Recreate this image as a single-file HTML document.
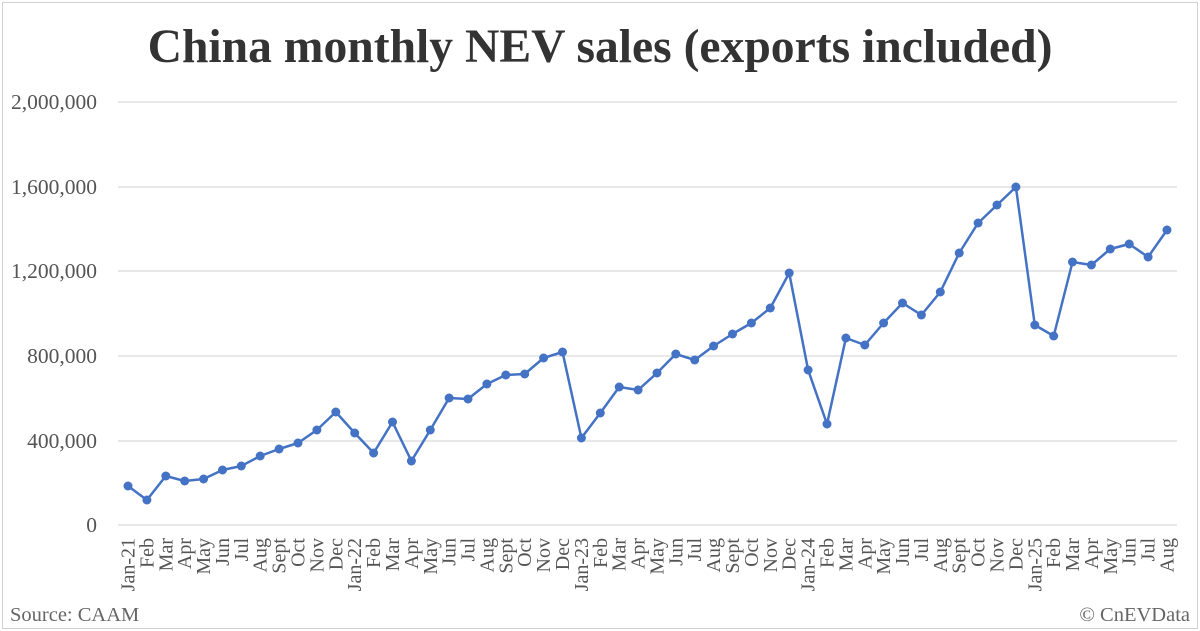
<!DOCTYPE html>
<html><head><meta charset="utf-8"><style>
html,body{margin:0;padding:0;background:#fff;}
svg{display:block;}
</style></head><body>
<svg width="1200" height="631" xmlns="http://www.w3.org/2000/svg" font-family="Liberation Serif, serif">
<rect x="2.5" y="2.5" width="1195" height="626" fill="#fff" stroke="#d0d0d0" stroke-width="1"/>
<text x="600" y="62" text-anchor="middle" font-size="47.6" font-weight="bold" fill="#333">China monthly NEV sales (exports included)</text>
<g stroke="#d9d9d9" stroke-width="1.2">
<line x1="118" x2="1177" y1="102" y2="102"/>
<line x1="118" x2="1177" y1="187" y2="187"/>
<line x1="118" x2="1177" y1="271" y2="271"/>
<line x1="118" x2="1177" y1="356" y2="356"/>
<line x1="118" x2="1177" y1="441" y2="441"/>
<line x1="118" x2="1177" y1="525" y2="525"/>
</g>
<g font-size="21.5" fill="#555" text-anchor="end">
<text x="97" y="109">2,000,000</text>
<text x="97" y="194">1,600,000</text>
<text x="97" y="278">1,200,000</text>
<text x="97" y="363">800,000</text>
<text x="97" y="448">400,000</text>
<text x="97" y="532">0</text>
</g>
<polyline fill="none" stroke="#4472c4" stroke-width="2.5" stroke-linejoin="round" points="128.0,486 146.9,500 165.8,476 184.7,481 203.6,479 222.5,470 241.3,466 260.2,456 279.1,449 298.0,443 316.9,430 335.8,412 354.7,433 373.6,453 392.5,422 411.4,461 430.3,430 449.1,398 468.0,399 486.9,384 505.8,375 524.7,374 543.6,358 562.5,352 581.4,438 600.3,413 619.2,387 638.1,390 657.0,373 675.8,354 694.7,360 713.6,346 732.5,334 751.4,323 770.3,308 789.2,273 808.1,370 827.0,424 845.9,338 864.8,345 883.6,323 902.5,303 921.4,315 940.3,292 959.2,253 978.1,223 997.0,205 1015.9,187 1034.8,325 1053.7,336 1072.5,262 1091.4,265 1110.3,249 1129.2,244 1148.1,257 1167.0,230"/>
<g fill="#4472c4">
<circle cx="128.0" cy="486" r="4.5"/><circle cx="146.9" cy="500" r="4.5"/><circle cx="165.8" cy="476" r="4.5"/><circle cx="184.7" cy="481" r="4.5"/><circle cx="203.6" cy="479" r="4.5"/><circle cx="222.5" cy="470" r="4.5"/><circle cx="241.3" cy="466" r="4.5"/><circle cx="260.2" cy="456" r="4.5"/><circle cx="279.1" cy="449" r="4.5"/><circle cx="298.0" cy="443" r="4.5"/><circle cx="316.9" cy="430" r="4.5"/><circle cx="335.8" cy="412" r="4.5"/>
<circle cx="354.7" cy="433" r="4.5"/><circle cx="373.6" cy="453" r="4.5"/><circle cx="392.5" cy="422" r="4.5"/><circle cx="411.4" cy="461" r="4.5"/><circle cx="430.3" cy="430" r="4.5"/><circle cx="449.1" cy="398" r="4.5"/><circle cx="468.0" cy="399" r="4.5"/><circle cx="486.9" cy="384" r="4.5"/><circle cx="505.8" cy="375" r="4.5"/><circle cx="524.7" cy="374" r="4.5"/><circle cx="543.6" cy="358" r="4.5"/><circle cx="562.5" cy="352" r="4.5"/>
<circle cx="581.4" cy="438" r="4.5"/><circle cx="600.3" cy="413" r="4.5"/><circle cx="619.2" cy="387" r="4.5"/><circle cx="638.1" cy="390" r="4.5"/><circle cx="657.0" cy="373" r="4.5"/><circle cx="675.8" cy="354" r="4.5"/><circle cx="694.7" cy="360" r="4.5"/><circle cx="713.6" cy="346" r="4.5"/><circle cx="732.5" cy="334" r="4.5"/><circle cx="751.4" cy="323" r="4.5"/><circle cx="770.3" cy="308" r="4.5"/><circle cx="789.2" cy="273" r="4.5"/>
<circle cx="808.1" cy="370" r="4.5"/><circle cx="827.0" cy="424" r="4.5"/><circle cx="845.9" cy="338" r="4.5"/><circle cx="864.8" cy="345" r="4.5"/><circle cx="883.6" cy="323" r="4.5"/><circle cx="902.5" cy="303" r="4.5"/><circle cx="921.4" cy="315" r="4.5"/><circle cx="940.3" cy="292" r="4.5"/><circle cx="959.2" cy="253" r="4.5"/><circle cx="978.1" cy="223" r="4.5"/><circle cx="997.0" cy="205" r="4.5"/><circle cx="1015.9" cy="187" r="4.5"/>
<circle cx="1034.8" cy="325" r="4.5"/><circle cx="1053.7" cy="336" r="4.5"/><circle cx="1072.5" cy="262" r="4.5"/><circle cx="1091.4" cy="265" r="4.5"/><circle cx="1110.3" cy="249" r="4.5"/><circle cx="1129.2" cy="244" r="4.5"/><circle cx="1148.1" cy="257" r="4.5"/><circle cx="1167.0" cy="230" r="4.5"/>
</g>
<g font-size="20" fill="#555" text-anchor="end">
<text transform="translate(134.5,538) rotate(-90)">Jan-21</text>
<text transform="translate(153.4,538) rotate(-90)">Feb</text>
<text transform="translate(172.3,538) rotate(-90)">Mar</text>
<text transform="translate(191.2,538) rotate(-90)">Apr</text>
<text transform="translate(210.1,538) rotate(-90)">May</text>
<text transform="translate(229.0,538) rotate(-90)">Jun</text>
<text transform="translate(247.8,538) rotate(-90)">Jul</text>
<text transform="translate(266.7,538) rotate(-90)">Aug</text>
<text transform="translate(285.6,538) rotate(-90)">Sept</text>
<text transform="translate(304.5,538) rotate(-90)">Oct</text>
<text transform="translate(323.4,538) rotate(-90)">Nov</text>
<text transform="translate(342.3,538) rotate(-90)">Dec</text>
<text transform="translate(361.2,538) rotate(-90)">Jan-22</text>
<text transform="translate(380.1,538) rotate(-90)">Feb</text>
<text transform="translate(399.0,538) rotate(-90)">Mar</text>
<text transform="translate(417.9,538) rotate(-90)">Apr</text>
<text transform="translate(436.8,538) rotate(-90)">May</text>
<text transform="translate(455.6,538) rotate(-90)">Jun</text>
<text transform="translate(474.5,538) rotate(-90)">Jul</text>
<text transform="translate(493.4,538) rotate(-90)">Aug</text>
<text transform="translate(512.3,538) rotate(-90)">Sept</text>
<text transform="translate(531.2,538) rotate(-90)">Oct</text>
<text transform="translate(550.1,538) rotate(-90)">Nov</text>
<text transform="translate(569.0,538) rotate(-90)">Dec</text>
<text transform="translate(587.9,538) rotate(-90)">Jan-23</text>
<text transform="translate(606.8,538) rotate(-90)">Feb</text>
<text transform="translate(625.7,538) rotate(-90)">Mar</text>
<text transform="translate(644.6,538) rotate(-90)">Apr</text>
<text transform="translate(663.5,538) rotate(-90)">May</text>
<text transform="translate(682.3,538) rotate(-90)">Jun</text>
<text transform="translate(701.2,538) rotate(-90)">Jul</text>
<text transform="translate(720.1,538) rotate(-90)">Aug</text>
<text transform="translate(739.0,538) rotate(-90)">Sept</text>
<text transform="translate(757.9,538) rotate(-90)">Oct</text>
<text transform="translate(776.8,538) rotate(-90)">Nov</text>
<text transform="translate(795.7,538) rotate(-90)">Dec</text>
<text transform="translate(814.6,538) rotate(-90)">Jan-24</text>
<text transform="translate(833.5,538) rotate(-90)">Feb</text>
<text transform="translate(852.4,538) rotate(-90)">Mar</text>
<text transform="translate(871.3,538) rotate(-90)">Apr</text>
<text transform="translate(890.1,538) rotate(-90)">May</text>
<text transform="translate(909.0,538) rotate(-90)">Jun</text>
<text transform="translate(927.9,538) rotate(-90)">Jul</text>
<text transform="translate(946.8,538) rotate(-90)">Aug</text>
<text transform="translate(965.7,538) rotate(-90)">Sept</text>
<text transform="translate(984.6,538) rotate(-90)">Oct</text>
<text transform="translate(1003.5,538) rotate(-90)">Nov</text>
<text transform="translate(1022.4,538) rotate(-90)">Dec</text>
<text transform="translate(1041.3,538) rotate(-90)">Jan-25</text>
<text transform="translate(1060.2,538) rotate(-90)">Feb</text>
<text transform="translate(1079.0,538) rotate(-90)">Mar</text>
<text transform="translate(1097.9,538) rotate(-90)">Apr</text>
<text transform="translate(1116.8,538) rotate(-90)">May</text>
<text transform="translate(1135.7,538) rotate(-90)">Jun</text>
<text transform="translate(1154.6,538) rotate(-90)">Jul</text>
<text transform="translate(1173.5,538) rotate(-90)">Aug</text>
</g>
<text x="10" y="621" font-size="20.5" fill="#666">Source: CAAM</text>
<text x="1190" y="621" font-size="20.5" fill="#666" text-anchor="end">© CnEVData</text>
</svg>
</body></html>
